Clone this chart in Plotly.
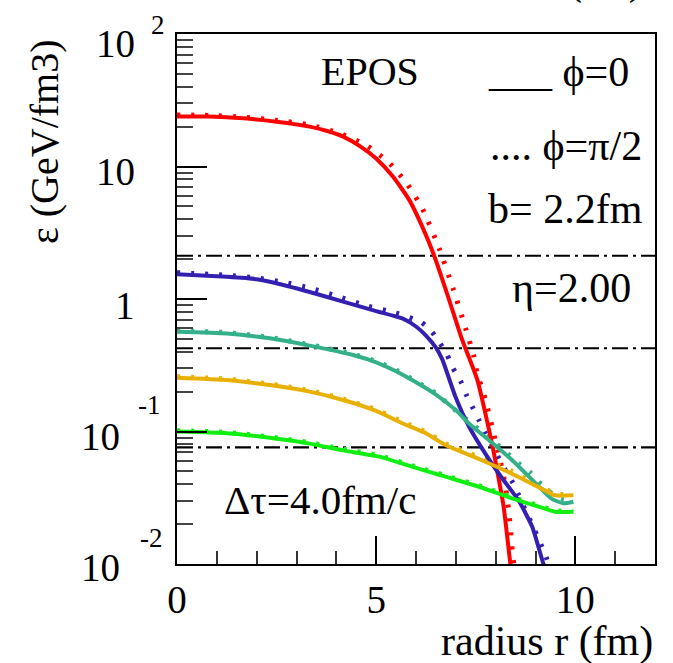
import math
import plotly.graph_objects as go

# ---------------- data ----------------
red_x = [0, 0.8, 1.67, 2.5, 3.33, 3.75, 4.17, 4.6, 5.0, 5.42, 5.83, 6.16, 6.45, 6.78, 7.16, 7.54, 7.925, 8.03, 8.2, 8.37, 8.45]
red_y = [23.8, 23.8, 23.1, 21.8, 20.0, 18.6, 16.8, 14.2, 11.5, 8.4, 5.6, 3.5, 2.15, 1.10, 0.491, 0.245, 0.0767, 0.052, 0.0271, 0.010, 0.007]
red_dx = [0, 0.8, 1.67, 2.5, 3.33, 4.08, 4.75, 5.32, 5.78, 6.17, 6.58, 6.93, 7.26, 7.45, 7.53, 7.74, 7.91, 8.08, 8.23, 8.33, 8.43, 8.5]
red_dy = [24.5, 24.3, 23.6, 22.3, 20.6, 17.8, 14.5, 10.7, 7.4, 4.75, 2.42, 1.2, 0.58, 0.37, 0.28, 0.175, 0.108, 0.067, 0.041, 0.025, 0.0115, 0.008]

blue_x = [0, 1.25, 2.0, 2.33, 3.33, 4.17, 5.0, 5.67, 6.0, 6.25, 6.5, 6.66, 6.99, 7.33, 7.74, 8.08, 8.58, 8.92, 9.2, 9.3]
blue_y = [1.54, 1.47, 1.41, 1.35, 1.13, 0.955, 0.81, 0.71, 0.62, 0.53, 0.43, 0.35, 0.183, 0.109, 0.068, 0.048, 0.030, 0.019, 0.010, 0.0085]
blue_dx = [0, 1.25, 2.0, 2.67, 3.375, 4.07, 4.75, 5.46, 6.13, 6.39, 6.59, 6.78, 6.93, 7.12, 7.26, 7.41, 7.58, 7.74, 8.08, 8.26, 8.43, 8.58, 8.73, 8.88, 9.03, 9.18, 9.28, 9.38]
blue_dy = [1.58, 1.51, 1.44, 1.34, 1.2, 1.04, 0.89, 0.79, 0.67, 0.57, 0.47, 0.38, 0.30, 0.24, 0.19, 0.154, 0.122, 0.098, 0.063, 0.050, 0.041, 0.033, 0.026, 0.021, 0.0166, 0.0131, 0.011, 0.0085]

teal_x = [0, 1.25, 2.33, 3.33, 4.42, 5.0, 5.5, 6.0, 6.5, 7.0, 7.33, 7.83, 8.41, 8.99, 9.41, 9.7, 9.95]
teal_y = [0.567, 0.55, 0.505, 0.445, 0.378, 0.333, 0.285, 0.235, 0.19, 0.145, 0.115, 0.086, 0.061, 0.041, 0.031, 0.0287, 0.0295]
teal_dx = [0, 1.25, 2.33, 3.33, 4.42, 5.0, 5.5, 6.0, 6.5, 6.95, 7.26, 7.83, 8.33, 8.62, 8.87, 9.14, 9.41, 9.7, 9.95]
teal_dy = [0.575, 0.558, 0.512, 0.452, 0.384, 0.338, 0.29, 0.239, 0.194, 0.148, 0.124, 0.09, 0.067, 0.056, 0.049, 0.040, 0.034, 0.031, 0.031]

orange_x = [0, 1.25, 2.33, 3.33, 4.17, 5.0, 5.67, 6.25, 6.74, 7.58, 8.41, 9.08, 9.49, 9.95]
orange_y = [0.255, 0.245, 0.224, 0.2, 0.173, 0.143, 0.115, 0.097, 0.079, 0.062, 0.048, 0.038, 0.033, 0.033]
orange_dx = [0, 1.25, 2.33, 3.33, 4.17, 5.0, 5.67, 6.25, 6.74, 7.58, 8.41, 9.08, 9.49, 9.95]
orange_dy = [0.259, 0.249, 0.228, 0.204, 0.176, 0.146, 0.118, 0.099, 0.081, 0.064, 0.050, 0.039, 0.034, 0.033]

green_x = [0, 1.25, 2.33, 3.33, 4.17, 5.08, 5.92, 6.74, 7.58, 8.41, 9.08, 9.49, 9.95]
green_y = [0.0998, 0.097, 0.0897, 0.081, 0.072, 0.0646, 0.054, 0.0456, 0.0383, 0.0313, 0.0271, 0.0248, 0.0248]
green_dx = [0, 1.25, 2.33, 3.33, 4.17, 5.08, 5.92, 6.74, 7.58, 8.41, 9.08, 9.49, 9.95]
green_dy = [0.1015, 0.0985, 0.091, 0.0825, 0.0735, 0.0658, 0.055, 0.0465, 0.039, 0.032, 0.0276, 0.0252, 0.0250]

hline_vals = [2.12, 0.425, 0.076]

x_range = [0, 12]
y_range_log = [-2, 2]
ytick_vals = [1e-2, 1e-1, 1, 10, 100]
ytick_base = ["10", "10", "1", "10", "10"]
ytick_exp = ["-2", "-1", "", "", "2"]

# ---------------- styling ----------------
W, H = 673, 663
L, R, T, B = 177, 655, 34, 564
FONT = "'Liberation Serif', 'Times New Roman', 'Nimbus Roman', 'DejaVu Serif', serif"
FS = 39
FT = 42

def px(x):
    return (x - L) / (R - L)

def py(y):
    return (B - y) / (B - T)

RED = "#FF0000"
BLUE = "#3320B0"
TEAL = "#33B08A"
ORANGE = "#E8B000"
GREEN = "#11EE11"

fig = go.Figure()

# dash-dot reference lines
for v in hline_vals:
    fig.add_trace(go.Scatter(x=x_range, y=[v, v], mode="lines",
                             line=dict(color="black", width=2.2, dash="16px,5px,3px,5px"),
                             showlegend=False, hoverinfo="skip"))

series = [
    (red_x, red_y, red_dx, red_dy, RED),
    (blue_x, blue_y, blue_dx, blue_dy, BLUE),
    (teal_x, teal_y, teal_dx, teal_dy, TEAL),
    (orange_x, orange_y, orange_dx, orange_dy, ORANGE),
    (green_x, green_y, green_dx, green_dy, GREEN),
]
for sx, sy, dx, dy, col in series:
    fig.add_trace(go.Scatter(x=dx, y=dy, mode="lines",
                             line=dict(color=col, width=5, dash="3px,11px", shape="spline", smoothing=0.5),
                             showlegend=False, hoverinfo="skip"))
for sx, sy, dx, dy, col in series:
    fig.add_trace(go.Scatter(x=sx, y=sy, mode="lines",
                             line=dict(color=col, width=4, shape="spline", smoothing=0.5),
                             showlegend=False, hoverinfo="skip"))

fig.update_xaxes(range=x_range, showgrid=False, zeroline=False,
                 showline=True, linecolor="black", linewidth=2, mirror=True,
                 ticks="inside", ticklen=28, tickwidth=1.5, tickcolor="black",
                 tickmode="linear", tick0=0, dtick=5,
                 minor=dict(ticks="inside", ticklen=13, tickwidth=1.5, tickcolor="#333", dtick=1, showgrid=False),
                 tickfont=dict(family=FONT, size=FS, color="black"),
                 ticklabelstandoff=0)
fig.update_yaxes(type="log", range=y_range_log, showgrid=False, zeroline=False,
                 showline=True, linecolor="black", linewidth=2, mirror=True,
                 ticks="inside", ticklen=30, tickwidth=1.5, tickcolor="black",
                 tickmode="linear", tick0=0, dtick=1,
                 minor=dict(ticks="inside", ticklen=16, tickwidth=1.5, tickcolor="#444", dtick="D1", showgrid=False),
                 showticklabels=False)

ann = []
# y tick labels (ROOT style)
base_right = {"-2": 122, "-1": 122, "": 137, "2": 137}
base_shift = [-3, -5, -6, -5, -9]
exp_shift = [26, 27, 0, 0, 9]
exp_x = {"-2": (165, "right"), "-1": (163, "right"), "2": (149, "left")}
for i, v in enumerate(ytick_vals):
    e = ytick_exp[i]
    ann.append(dict(x=px(base_right[e]), xref="paper", y=math.log10(v), yref="y",
                    text=ytick_base[i], showarrow=False, xanchor="right", yanchor="middle",
                    yshift=base_shift[i], font=dict(family=FONT, size=FS, color="black")))
    if e:
        ex, anc = exp_x[e]
        ann.append(dict(x=px(ex), xref="paper", y=math.log10(v), yref="y",
                        text=e, showarrow=False, xanchor=anc, yanchor="middle",
                        yshift=exp_shift[i], font=dict(family=FONT, size=27, color="black")))

def txt(text, x, y, anchor="left", size=FT, angle=0):
    ann.append(dict(x=px(x), y=py(y), xref="paper", yref="paper", text=text,
                    showarrow=False, xanchor=anchor, yanchor="middle", textangle=angle,
                    font=dict(family=FONT, size=size, color="black")))

txt("EPOS", 370, 71, "center", size=40)
txt("___ ϕ=0", 486, 72)
txt(".... ϕ=π/2", 488, 146)
txt("b= 2.2fm", 486, 209)
txt("η=2.00", 510, 288)
txt("Δτ=4.0fm/c", 222, 500, size=41)
txt("radius r (fm)", 655, 641, "right")
txt("ε (GeV/fm3)", 45, 142, "center", angle=-90, size=40)
# title clipped at the top of the canvas
txt("(fm)", 645, -20, "right")

fig.update_layout(width=W, height=H, margin=dict(l=L, r=W - R, t=T, b=H - B, pad=0),
                  plot_bgcolor="white", paper_bgcolor="white", annotations=ann)

fig.write_html("out.html")
